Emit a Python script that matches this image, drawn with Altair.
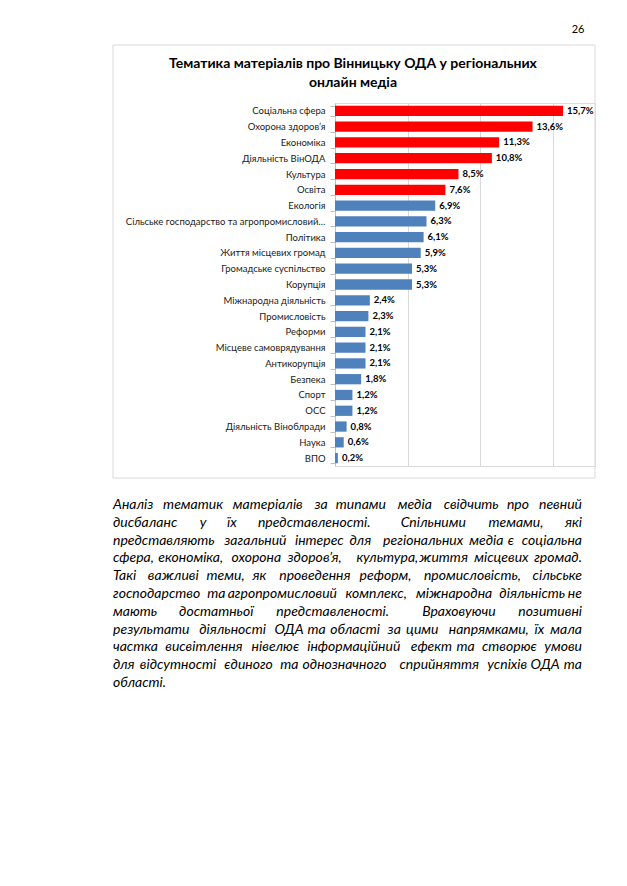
import altair as alt
import pandas as pd

categories = [
    "Соціальна сфера", "Охорона здоров’я", "Економіка", "Діяльність ВінОДА",
    "Культура", "Освіта", "Екологія",
    "Сільське господарство та агропромисловий…", "Політика",
    "Життя  місцевих громад", "Громадське суспільство", "Корупція",
    "Міжнародна діяльність", "Промисловість", "Реформи",
    "Місцеве самоврядування", "Антикорупція", "Безпека", "Спорт", "ОСС",
    "Діяльність Віноблради", "Наука", "ВПО",
]
values = [15.7, 13.6, 11.3, 10.8, 8.5, 7.6, 6.9, 6.3, 6.1, 5.9, 5.3, 5.3,
          2.4, 2.3, 2.1, 2.1, 2.1, 1.8, 1.2, 1.2, 0.8, 0.6, 0.2]
groups = ["top"] * 6 + ["rest"] * 17

title_lines = ["Тематика матеріалів про Вінницьку ОДА у регіональних",
               "онлайн медіа"]
page_number = "26"
paragraph = [
    "Аналіз тематик матеріалів за типами медіа свідчить про певний",
    "дисбаланс у їх представленості. Спільними темами, які",
    "представляють загальний інтерес для регіональних медіа є соціальна",
    "сфера, економіка,  охорона здоров’я, культура, життя місцевих громад.",
    "Такі важливі теми, як проведення реформ, промисловість, сільське",
    "господарство та агропромисловий комплекс, міжнародна діяльність не",
    "мають достатньої представленості. Враховуючи позитивні",
    "результати діяльності ОДА та області за цими напрямками, їх мала",
    "частка висвітлення нівелює інформаційний ефект та створює умови",
    "для відсутності єдиного та однозначного сприйняття успіхів ОДА та",
    "області.",
]

FONT = "Lato"
W, H = 260, 363
PARA_LEFT, PARA_RIGHT = -222, 247   # relative to plot origin
PARA_SIZE = 14
SAFETY = 1.04  # over-estimate word widths so that words never collide


def em_width(word):
    """rough advance width (in em) of a word set in italic Lato"""
    total = 0.0
    for ch in word:
        if ch in "іїlij'’,.:;!()":
            total += 0.25
        elif ch in "т":
            total += 0.75
        elif ch in "мфжю":
            total += 0.71
        elif ch in "шщ":
            total += 0.81
        elif ch in "гсз":
            total += 0.45
        elif ch in "еє":
            total += 0.5
        elif ch.isupper():
            total += 0.66
        else:
            total += 0.53
    return total


rows = []
for i, line in enumerate(paragraph):
    words = line.split()
    n = len(words)
    est = [em_width(w) * PARA_SIZE * SAFETY for w in words]
    last = i == len(paragraph) - 1
    gap = (PARA_RIGHT - PARA_LEFT - sum(est)) / (n - 1) if n > 1 else 0
    if last or n == 1 or gap < 1.0:
        rows.append({"w": line, "i": i, "xx": PARA_LEFT, "al": "left"})
        continue
    for k, w in enumerate(words):
        start = PARA_LEFT + sum(est[:k]) + k * gap
        if k < n / 2:
            rows.append({"w": w, "i": i, "xx": start, "al": "left"})
        else:
            rows.append({"w": w, "i": i, "xx": start + est[k], "al": "right"})
pdf = pd.DataFrame(rows)

df = pd.DataFrame({"cat": categories, "v": values, "g": groups})

y_enc = alt.Y("cat:N", sort=categories, title=None,
              scale=alt.Scale(paddingInner=0.35, paddingOuter=0.175),
              axis=alt.Axis(labelFont=FONT, labelFontSize=9.5, labelColor="#1a1a1a",
                            labelPadding=5, labelLimit=260, ticks=True, tickSize=5,
                            tickBand="extent", tickColor="#bfbfbf",
                            domainColor="#bfbfbf", grid=False))
x_enc = alt.X("v:Q", title=None, scale=alt.Scale(domain=[0, 17.9], nice=False),
              axis=alt.Axis(values=[5, 10, 15], labels=False, ticks=False,
                            domain=False, grid=True, gridColor="#d9d9d9"))

bars = alt.Chart(df).mark_bar().encode(
    x=x_enc, y=y_enc,
    color=alt.Color("g:N", scale=alt.Scale(domain=["top", "rest"],
                                           range=["#ff0000", "#4f81bd"]), legend=None),
)

labels = alt.Chart(df).transform_calculate(
    lab="replace(format(datum.v, '.1f'), '.', ',') + '%'"
).mark_text(align="left", baseline="middle", dx=4, font=FONT, fontSize=9.5,
            fontWeight="bold", color="#000000").encode(
    x="v:Q", y=alt.Y("cat:N", sort=categories), text="lab:N")

frame = alt.Chart(pd.DataFrame({"a": [0]})).mark_rect(
    fillOpacity=0, stroke="#d9d9d9", strokeWidth=1).encode(
    x=alt.value(-222), x2=alt.value(260), y=alt.value(-58), y2=alt.value(375))

tdf = pd.DataFrame({"t": title_lines, "i": list(range(len(title_lines)))})
title = alt.Chart(tdf).transform_calculate(yy="-39 + datum.i * 19").mark_text(
    align="center", baseline="middle", font=FONT, fontSize=14, fontWeight="bold",
    color="#000000").encode(x=alt.value(18), y=alt.Y("yy:Q", scale=None), text="t:N")

pn = alt.Chart(pd.DataFrame({"t": [page_number]})).mark_text(
    align="center", baseline="middle", font=FONT, fontSize=11, color="#000000").encode(
    x=alt.value(243), y=alt.value(-73), text="t:N")

para_base = alt.Chart(pdf).transform_calculate(yy="402 + datum.i * 17.8")
para_l = para_base.transform_filter("datum.al == 'left'").mark_text(
    align="left", baseline="middle", font=FONT, fontSize=PARA_SIZE, fontStyle="italic",
    color="#000000").encode(x=alt.X("xx:Q", scale=None), y=alt.Y("yy:Q", scale=None),
                            text="w:N")
para_r = para_base.transform_filter("datum.al == 'right'").mark_text(
    align="right", baseline="middle", font=FONT, fontSize=PARA_SIZE, fontStyle="italic",
    color="#000000").encode(x=alt.X("xx:Q", scale=None), y=alt.Y("yy:Q", scale=None),
                            text="w:N")

chart = alt.layer(frame, bars, labels, title, pn, para_l, para_r).properties(
    width=W, height=H,
    autosize=alt.AutoSizeParams(type="none"),
    padding={"left": 327, "top": 95, "right": 24, "bottom": 412},
).configure_view(stroke=None).configure(background="white")

chart.save("out.html", embed_options={"renderer": "svg", "actions": False})
